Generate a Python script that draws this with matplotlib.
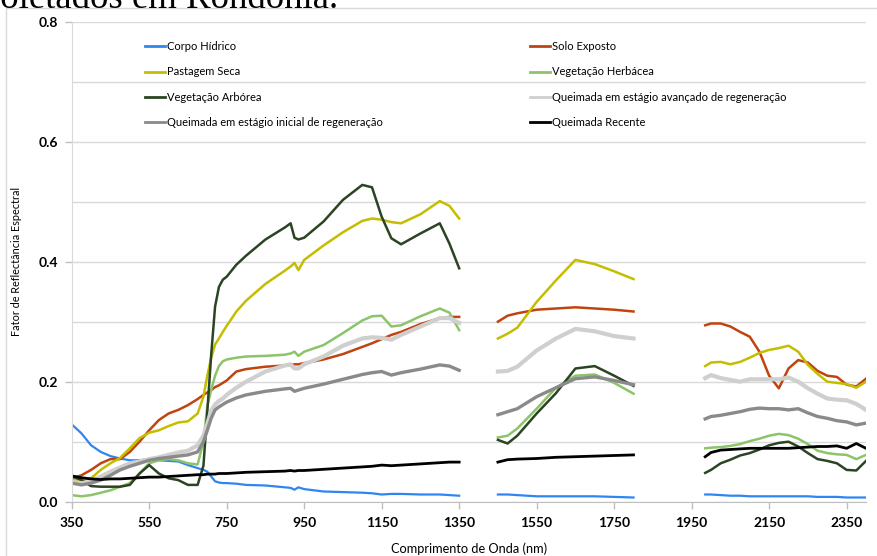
import numpy as np
import matplotlib.pyplot as plt
from matplotlib.patches import Rectangle
from matplotlib.ticker import MultipleLocator, FormatStrFormatter

plt.rcParams['font.family'] = ['Lato', 'DejaVu Sans']

nan = np.nan

# wavelengths (nm) of the three measured windows, gaps = water absorption bands
wl_1 = [350, 375, 400, 425, 450, 475, 500, 525, 550, 575,
        600, 625, 650, 675, 690, 700, 710, 720, 730, 740,
        750, 775, 800, 850, 900, 915, 925, 935, 950, 1000,
        1050, 1100, 1125, 1150, 1175, 1200, 1250, 1300, 1325, 1350]
wl_2 = [1450, 1475, 1500, 1550, 1600, 1650, 1700, 1750, 1800]
wl_3 = [1985, 2000, 2025, 2050, 2075, 2100, 2125, 2150, 2175, 2200,
        2225, 2250, 2275, 2300, 2325, 2350, 2375, 2400]
wavelength = wl_1 + [nan] + wl_2 + [nan] + wl_3

corpo_hidrico = [0.129, 0.114, 0.094, 0.083, 0.076, 0.072, 0.069, 0.069, 0.071, 0.069,
                 0.068, 0.067, 0.061, 0.056, 0.053, 0.050, 0.042, 0.034, 0.032, 0.031,
                 0.031, 0.030, 0.028, 0.027, 0.024, 0.023, 0.020, 0.024, 0.021, 0.017,
                 0.016, 0.015, 0.014, 0.012, 0.013, 0.013, 0.012, 0.012, 0.011, 0.010, nan,
                 0.012, 0.012, 0.011, 0.009, 0.009, 0.009, 0.009, 0.008, 0.007, nan,
                 0.012, 0.012, 0.011, 0.010, 0.010, 0.009, 0.009, 0.009, 0.009, 0.009,
                 0.009, 0.009, 0.008, 0.008, 0.008, 0.007, 0.007, 0.007]
solo_exposto = [0.039, 0.044, 0.053, 0.064, 0.071, 0.071, 0.083, 0.100, 0.119, 0.136,
                0.147, 0.153, 0.161, 0.171, 0.178, 0.182, 0.186, 0.191, 0.194, 0.198,
                0.202, 0.217, 0.221, 0.225, 0.227, 0.228, 0.229, 0.229, 0.231, 0.237,
                0.246, 0.258, 0.264, 0.271, 0.278, 0.283, 0.296, 0.306, 0.308, 0.308, nan,
                0.300, 0.310, 0.314, 0.320, 0.322, 0.324, 0.322, 0.320, 0.317, nan,
                0.294, 0.297, 0.297, 0.292, 0.283, 0.275, 0.250, 0.210, 0.189, 0.222,
                0.236, 0.232, 0.218, 0.210, 0.208, 0.195, 0.192, 0.205]
pastagem_seca = [0.036, 0.036, 0.039, 0.053, 0.064, 0.073, 0.089, 0.106, 0.115, 0.119,
                 0.126, 0.132, 0.134, 0.147, 0.175, 0.210, 0.240, 0.262, 0.272, 0.283,
                 0.293, 0.317, 0.335, 0.363, 0.385, 0.392, 0.398, 0.386, 0.403, 0.427,
                 0.449, 0.468, 0.472, 0.470, 0.466, 0.464, 0.479, 0.501, 0.493, 0.472, nan,
                 0.272, 0.280, 0.290, 0.333, 0.369, 0.403, 0.396, 0.384, 0.371, nan,
                 0.226, 0.232, 0.233, 0.229, 0.233, 0.240, 0.248, 0.253, 0.256, 0.260,
                 0.250, 0.228, 0.213, 0.200, 0.198, 0.196, 0.190, 0.200]
veg_herbacea = [0.011, 0.009, 0.011, 0.015, 0.019, 0.025, 0.031, 0.047, 0.064, 0.069,
                0.071, 0.069, 0.064, 0.062, 0.100, 0.160, 0.186, 0.210, 0.226, 0.234,
                0.237, 0.240, 0.242, 0.243, 0.245, 0.247, 0.250, 0.243, 0.250, 0.261,
                0.281, 0.302, 0.309, 0.310, 0.292, 0.294, 0.309, 0.322, 0.315, 0.286, nan,
                0.107, 0.110, 0.122, 0.155, 0.190, 0.210, 0.212, 0.198, 0.180, nan,
                0.089, 0.090, 0.091, 0.093, 0.096, 0.101, 0.105, 0.110, 0.113, 0.111,
                0.105, 0.096, 0.085, 0.081, 0.079, 0.078, 0.071, 0.078]
veg_arborea = [0.043, 0.036, 0.026, 0.025, 0.025, 0.025, 0.028, 0.047, 0.061, 0.047,
               0.039, 0.036, 0.028, 0.028, 0.060, 0.150, 0.245, 0.325, 0.358, 0.370,
               0.375, 0.395, 0.410, 0.437, 0.457, 0.464, 0.440, 0.437, 0.440, 0.467,
               0.503, 0.528, 0.524, 0.475, 0.439, 0.429, 0.447, 0.464, 0.430, 0.389, nan,
               0.103, 0.097, 0.110, 0.147, 0.181, 0.222, 0.226, 0.210, 0.193, nan,
               0.048, 0.053, 0.064, 0.070, 0.077, 0.081, 0.087, 0.094, 0.098, 0.100,
               0.092, 0.081, 0.071, 0.068, 0.064, 0.053, 0.052, 0.068]
queimada_avancado = [0.033, 0.031, 0.033, 0.042, 0.050, 0.057, 0.064, 0.067, 0.071, 0.074,
                     0.078, 0.082, 0.085, 0.094, 0.110, 0.130, 0.152, 0.162, 0.168, 0.172,
                     0.178, 0.190, 0.200, 0.217, 0.227, 0.229, 0.222, 0.222, 0.229, 0.242,
                     0.260, 0.272, 0.274, 0.273, 0.270, 0.278, 0.292, 0.306, 0.306, 0.298, nan,
                     0.217, 0.218, 0.225, 0.252, 0.272, 0.288, 0.284, 0.276, 0.272, nan,
                     0.206, 0.211, 0.206, 0.203, 0.200, 0.204, 0.204, 0.204, 0.204, 0.207,
                     0.200, 0.189, 0.180, 0.172, 0.170, 0.169, 0.163, 0.153]
queimada_inicial = [0.031, 0.028, 0.031, 0.036, 0.044, 0.053, 0.059, 0.064, 0.069, 0.072,
                    0.074, 0.076, 0.078, 0.083, 0.100, 0.119, 0.139, 0.153, 0.158, 0.162,
                    0.166, 0.173, 0.178, 0.184, 0.188, 0.189, 0.184, 0.186, 0.189, 0.196,
                    0.204, 0.212, 0.215, 0.217, 0.211, 0.215, 0.221, 0.228, 0.226, 0.219, nan,
                    0.145, 0.150, 0.155, 0.175, 0.190, 0.205, 0.208, 0.202, 0.195, nan,
                    0.138, 0.142, 0.144, 0.147, 0.150, 0.154, 0.156, 0.155, 0.155, 0.153,
                    0.155, 0.148, 0.142, 0.139, 0.135, 0.133, 0.128, 0.131]
queimada_recente = [0.043, 0.040, 0.038, 0.037, 0.038, 0.038, 0.039, 0.040, 0.041, 0.041,
                    0.042, 0.043, 0.044, 0.045, 0.045, 0.046, 0.046, 0.046, 0.047, 0.047,
                    0.047, 0.048, 0.049, 0.050, 0.051, 0.052, 0.051, 0.052, 0.052, 0.054,
                    0.056, 0.058, 0.059, 0.061, 0.060, 0.061, 0.063, 0.065, 0.066, 0.066, nan,
                    0.066, 0.070, 0.071, 0.072, 0.074, 0.075, 0.076, 0.077, 0.078, nan,
                    0.075, 0.082, 0.086, 0.087, 0.088, 0.089, 0.089, 0.089, 0.089, 0.089,
                    0.090, 0.091, 0.092, 0.092, 0.093, 0.089, 0.097, 0.089]

labels = ['Corpo Hídrico', 'Solo Exposto', 'Pastagem Seca', 'Vegetação Herbácea',
          'Vegetação Arbórea', 'Queimada em estágio avançado de regeneração',
          'Queimada em estágio inicial de regeneração', 'Queimada Recente']
series = [corpo_hidrico, solo_exposto, pastagem_seca, veg_herbacea,
          veg_arborea, queimada_avancado, queimada_inicial, queimada_recente]
colors = ['#2f86f2', '#c0440f', '#c4bd00', '#8cc46a',
          '#2b4423', '#cfcfcf', '#8a8a8a', '#000000']
widths = [1.6, 1.8, 1.8, 1.8, 1.8, 3.0, 2.4, 2.0]

fig = plt.figure(figsize=(8.78, 5.56), dpi=100)
W, H = 878, 556
ax = fig.add_axes([71.7 / W, (H - 501.7) / H, (866 - 71.7) / W, 480 / H])

# frame of the embedded chart object
fig.patches.append(Rectangle((6 / W, -0.1), 1.2, (H - 8) / H + 0.1, transform=fig.transFigure,
                             fill=False, edgecolor='#d9d9d9', lw=1))
# piece of the document text above the chart (cut by the page crop)
fig.text(-16 / W, 1 - 8 / H, 'coletados em Rondônia.', family='Liberation Serif',
         fontsize=26.5, va='baseline', ha='left')

handles = []
for name, vals, c, lw in zip(labels, series, colors, widths):
    h, = ax.plot(wavelength, vals, color=c, lw=lw, label=name, solid_joinstyle='round')
    handles.append(h)

ax.set_xlim(350, 2400)
ax.set_ylim(0, 0.8)
ax.set_xticks(np.arange(350, 2351, 200))
ax.yaxis.set_major_locator(MultipleLocator(0.2))
ax.yaxis.set_minor_locator(MultipleLocator(0.1))
ax.yaxis.set_major_formatter(FormatStrFormatter('%.1f'))
ax.grid(axis='y', which='both', color='#d9d9d9', lw=1)
ax.set_axisbelow(True)
ax.tick_params(which='major', length=5, width=1, color='#bfbfbf', labelsize=10)
ax.tick_params(axis='y', pad=5)
ax.tick_params(axis='x', pad=6)
ax.tick_params(which='minor', length=0)
for lbl in ax.get_xticklabels() + ax.get_yticklabels():
    lbl.set_fontweight('bold')
for s in ['top', 'right']:
    ax.spines[s].set_visible(False)
ax.spines['left'].set_color('#d9d9d9')
ax.spines['bottom'].set_color('#bfbfbf')

ax.set_xlabel('Comprimento de Onda (nm)', fontsize=9.2, labelpad=10)
ax.set_ylabel('Fator de Reflectância Espectral', fontsize=7.8, labelpad=12)

legend_kw = dict(loc='upper left', bbox_transform=fig.transFigure, frameon=False, fontsize=8,
                 handlelength=1.8, handletextpad=0.15, labelspacing=1.3, borderpad=0,
                 borderaxespad=0)
leg1 = ax.legend(handles=[handles[i] for i in (0, 2, 4, 6)],
                 bbox_to_anchor=(145 / W, 1 - 41 / H), **legend_kw)
ax.add_artist(leg1)
leg2 = ax.legend(handles=[handles[i] for i in (1, 3, 5, 7)],
                 bbox_to_anchor=(530 / W, 1 - 41 / H), **legend_kw)
for leg in (leg1, leg2):
    for ln in leg.get_lines():
        ln.set_linewidth(2)

fig.savefig('out.png', dpi=100)
